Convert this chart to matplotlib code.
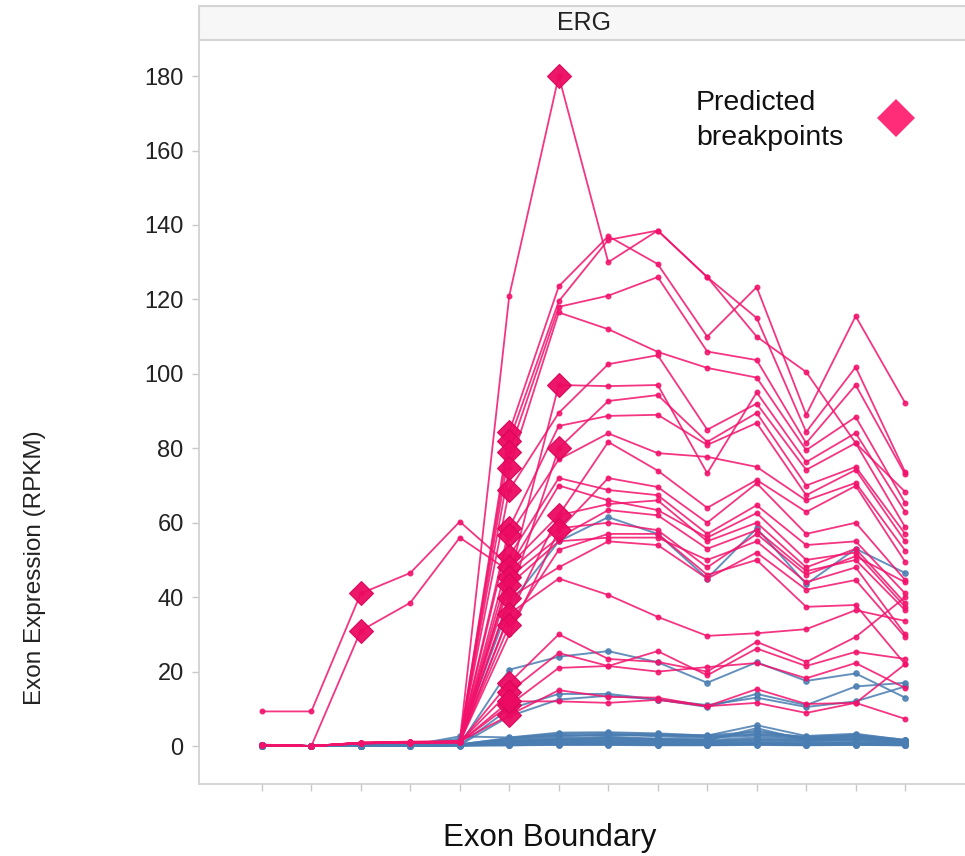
import matplotlib
matplotlib.use("Agg")
import matplotlib.pyplot as plt
from matplotlib.patches import Rectangle
import numpy as np

plt.rcParams["font.family"] = ["Liberation Sans", "DejaVu Sans"]

# exon boundaries along x (unlabelled in the figure)
BOUNDARIES = list(range(14))

# fusion-positive samples (pink), one value per exon boundary
FUSION_LINES = [
    [0.4, 0.0, 0.9, 1.2, 1.3, 121.0, 180.0, 130.0, 138.5, 126.0, 110.0, 100.5, 81.4, 68.3],
    [0.3, 0.0, 0.8, 1.0, 1.1, 84.4, 123.5, 137.0, 129.5, 110.0, 123.3, 89.0, 115.5, 92.2],
    [0.3, 0.0, 0.7, 1.0, 1.2, 82.0, 119.5, 136.0, 138.5, 126.0, 115.0, 84.4, 101.8, 73.6],
    [0.2, 0.0, 0.8, 0.9, 1.0, 79.0, 118.0, 121.0, 126.0, 106.0, 103.7, 81.4, 97.0, 73.0],
    [0.3, 0.0, 0.9, 1.1, 1.2, 74.7, 116.5, 112.0, 105.9, 101.6, 99.0, 79.5, 88.4, 65.3],
    [0.3, 0.0, 0.8, 1.0, 1.0, 45.0, 97.0, 96.7, 97.0, 73.3, 95.0, 76.3, 84.1, 62.9],
    [0.2, 0.0, 0.7, 0.9, 1.1, 68.8, 89.5, 102.6, 105.0, 85.0, 92.0, 74.2, 81.4, 58.8],
    [0.3, 0.0, 0.8, 1.0, 1.2, 40.0, 80.0, 92.7, 94.3, 81.7, 89.5, 70.0, 75.0, 57.0],
    [0.3, 0.0, 0.9, 1.0, 1.0, 58.6, 86.0, 88.7, 89.0, 80.9, 86.8, 67.4, 74.2, 55.0],
    [0.2, 0.0, 0.8, 1.1, 1.1, 56.7, 77.0, 84.0, 78.7, 77.7, 75.0, 66.0, 70.7, 52.5],
    [0.3, 0.0, 0.7, 1.0, 1.3, 35.0, 62.0, 81.7, 74.0, 64.0, 71.5, 62.9, 69.9, 49.5],
    [0.3, 0.0, 0.8, 0.9, 1.0, 30.0, 58.0, 72.0, 69.6, 60.0, 70.6, 57.0, 60.0, 44.6],
    [0.3, 0.0, 0.9, 1.0, 1.1, 51.0, 72.0, 68.8, 67.4, 57.0, 64.7, 54.0, 55.0, 41.0],
    [0.2, 0.0, 0.8, 1.0, 1.2, 48.0, 70.0, 66.0, 63.4, 56.0, 62.6, 50.0, 52.0, 37.4],
    [0.3, 0.0, 0.8, 1.0, 1.0, 45.4, 56.0, 63.4, 62.0, 53.0, 58.0, 47.0, 50.0, 36.5],
    [0.3, 0.0, 0.7, 1.1, 1.1, 43.3, 55.0, 56.0, 56.0, 50.0, 55.0, 44.0, 48.0, 30.0],
    [0.3, 0.0, 0.8, 1.0, 1.2, 39.8, 48.0, 55.0, 54.0, 45.0, 52.0, 42.0, 44.6, 29.3],
    [0.2, 0.0, 0.9, 0.9, 1.0, 35.5, 45.0, 40.6, 34.7, 29.6, 30.3, 31.4, 36.5, 33.6],
    [0.3, 0.0, 0.8, 1.0, 1.1, 32.5, 52.7, 57.0, 57.0, 46.0, 50.0, 37.4, 37.9, 22.0],
    [9.3, 9.3, 41.0, 46.5, 60.3, 48.5, 62.0, 65.0, 66.0, 55.0, 60.0, 48.0, 53.0, 38.4],
    [0.3, 0.0, 31.0, 38.5, 56.0, 47.0, 58.5, 60.0, 58.0, 48.0, 57.0, 46.0, 51.0, 44.0],
    [0.3, 0.0, 0.8, 1.0, 1.0, 17.0, 30.0, 23.4, 22.6, 20.0, 28.0, 22.6, 29.3, 40.0],
    [0.3, 0.0, 0.8, 1.0, 1.1, 14.5, 25.0, 21.5, 25.5, 19.0, 26.2, 21.5, 25.3, 23.4],
    [0.2, 0.0, 0.7, 0.9, 1.0, 11.0, 21.0, 21.5, 20.0, 21.2, 22.3, 18.2, 22.3, 15.6],
    [0.3, 0.0, 0.8, 1.0, 1.2, 8.3, 15.0, 13.2, 13.0, 10.7, 15.3, 11.3, 11.6, 7.3],
    [0.3, 0.0, 0.8, 1.0, 1.0, 12.0, 12.0, 11.6, 12.4, 10.7, 11.6, 8.9, 11.6, 22.0],
]
# index of the exon boundary flagged as predicted breakpoint, per fusion line
BREAKPOINT_AT = [6, 5, 5, 5, 5, 6, 5, 6, 5, 5, 6, 6, 5, 5, 5, 5, 5, 5, 5, 2, 2, 5, 5, 5, 5, 5]

# fusion-negative samples (blue)
NORMAL_LINES = [
    [0.3, 0.0, 0.2, 0.3, 2.0, 38.0, 55.0, 61.5, 57.0, 45.0, 58.5, 43.5, 53.0, 46.5],
    [0.2, 0.0, 0.1, 0.2, 0.4, 20.5, 24.0, 25.5, 22.5, 17.0, 22.5, 17.5, 19.5, 13.0],
    [0.2, 0.0, 0.2, 0.2, 0.3, 10.0, 14.0, 14.0, 12.5, 10.5, 14.0, 11.0, 16.0, 17.0],
    [0.1, 0.0, 0.1, 0.2, 0.3, 8.0, 12.5, 13.5, 12.5, 11.0, 13.0, 10.5, 12.0, 16.0],
    [0.2, 0.0, 0.1, 0.2, 0.3, 0.8, 1.2, 1.5, 1.2, 1.0, 1.4, 0.9, 1.1, 0.8],
    [0.1, 0.0, 0.2, 0.3, 0.4, 1.5, 2.5, 3.2, 2.6, 2.2, 2.8, 1.9, 2.3, 1.2],
    [0.3, 0.0, 0.2, 0.2, 2.6, 2.3, 3.6, 3.7, 3.4, 2.8, 5.6, 2.7, 3.3, 1.6],
    [0.2, 0.0, 0.1, 0.1, 0.2, 0.5, 0.8, 0.6, 0.5, 0.4, 0.7, 0.5, 0.6, 0.4],
    [0.1, 0.0, 0.1, 0.2, 0.3, 1.0, 1.8, 2.0, 1.7, 1.5, 4.8, 1.6, 1.9, 1.0],
    [0.2, 0.0, 0.2, 0.3, 0.5, 2.0, 3.0, 2.7, 3.0, 2.5, 3.1, 2.2, 2.9, 1.4],
    [0.0, 0.0, 0.0, 0.1, 0.1, 0.2, 0.3, 0.3, 0.2, 0.2, 0.3, 0.2, 0.3, 0.2],
    [0.1, 0.0, 0.1, 0.1, 0.2, 0.7, 1.0, 1.1, 0.9, 0.8, 1.0, 0.7, 0.9, 0.6],
    [0.3, 0.0, 0.2, 0.3, 0.4, 1.2, 2.1, 2.4, 2.0, 1.8, 4.2, 2.0, 2.6, 1.1],
    [0.2, 0.0, 0.1, 0.2, 0.3, 0.3, 0.5, 0.4, 0.3, 0.3, 0.5, 0.3, 0.4, 0.3],
    [0.1, 0.0, 0.2, 0.2, 0.3, 1.8, 2.8, 3.0, 2.9, 2.6, 3.3, 2.5, 2.7, 1.5],
    [0.2, 0.0, 0.1, 0.2, 0.2, 0.9, 1.5, 1.8, 1.4, 1.2, 1.7, 1.3, 1.5, 0.9],
    [0.1, 0.0, 0.1, 0.1, 0.1, 0.4, 0.6, 0.7, 0.6, 0.5, 0.6, 0.4, 0.5, 0.3],
    [0.2, 0.0, 0.2, 0.2, 0.4, 1.3, 1.9, 2.2, 1.9, 1.6, 2.3, 1.7, 2.0, 1.3],
    [0.1, 0.0, 0.1, 0.1, 0.2, 0.6, 0.9, 1.0, 0.8, 0.7, 0.9, 0.6, 0.8, 0.5],
    [0.3, 0.0, 0.2, 0.3, 0.4, 2.2, 3.3, 3.5, 3.1, 2.9, 3.8, 2.4, 3.0, 1.7],
    [0.1, 0.0, 0.1, 0.2, 0.3, 1.1, 1.6, 1.3, 1.5, 1.3, 1.9, 1.4, 1.7, 1.1],
    [0.2, 0.0, 0.1, 0.1, 0.2, 0.2, 0.4, 0.5, 0.4, 0.3, 0.4, 0.3, 0.4, 0.2],
]

Y_TICKS = list(range(0, 181, 20))

PINK = "#F2126C"
DIAMOND = "#EC0A62"
BLUE = "#4A7DB1"

W, H = 965, 856
fig = plt.figure(figsize=(W / 100, H / 100), dpi=100)
ax = fig.add_axes([199 / W, 1 - 784 / H, 769 / W, 744 / H])

x = np.array(BOUNDARIES)
for vals in NORMAL_LINES:
    ax.plot(x, vals, color=BLUE, lw=1.4, alpha=0.85, marker="o", ms=3.8, zorder=2)

for vals in FUSION_LINES:
    ax.plot(x, vals, color=PINK, lw=1.3, alpha=0.85, marker="o", ms=3.3, zorder=3)

for vals, bp in zip(FUSION_LINES, BREAKPOINT_AT):
    ax.plot(x[bp], vals[bp], marker="D", ms=12, color=DIAMOND,
            markeredgecolor="#D8065A", markeredgewidth=0.8, alpha=0.95, zorder=4)

ax.set_xlim(-1.27, 14.27)
ax.set_ylim(-10.2, 189.7)
ax.set_yticks(Y_TICKS)
ax.set_xticks(BOUNDARIES)
ax.set_xticklabels([])

for side in ["top", "right"]:
    ax.spines[side].set_visible(False)
for side in ["left", "bottom"]:
    ax.spines[side].set_color("#d2d2d2")
    ax.spines[side].set_linewidth(1.3)
ax.tick_params(axis="both", color="#c8c8c8", length=5, width=1.0)
ax.tick_params(axis="y", labelsize=17, labelcolor="#222222", pad=6)

# facet strip
strip = Rectangle((199 / W, 1 - 40 / H), 769 / W, 34 / H, transform=fig.transFigure,
                  facecolor="#f7f7f7", edgecolor="#d4d4d4", lw=1.5, clip_on=False)
fig.patches.append(strip)
fig.text(584 / W, 1 - 23 / H, "ERG", ha="center", va="center", fontsize=18, color="#222222")

fig.text(35 / W, 1 - 568 / H, "Exon Expression (RPKM)", rotation=90, ha="center", va="center",
         fontsize=17.5, color="#222222")
fig.text(550 / W, 1 - 838 / H, "Exon Boundary", ha="center", va="center", fontsize=22.5, color="#111111")

# legend-like annotation
fig.text(696 / W, 1 - 103 / H, "Predicted", ha="left", va="center", fontsize=20.5, color="#111111")
fig.text(696 / W, 1 - 138 / H, "breakpoints", ha="left", va="center", fontsize=20.5, color="#111111")
fig.lines.append(plt.Line2D([896 / W], [1 - 118 / H], transform=fig.transFigure, marker="D",
                            ms=19, color="#FF2D78", markeredgewidth=0))

fig.savefig("out.png", dpi=100)
